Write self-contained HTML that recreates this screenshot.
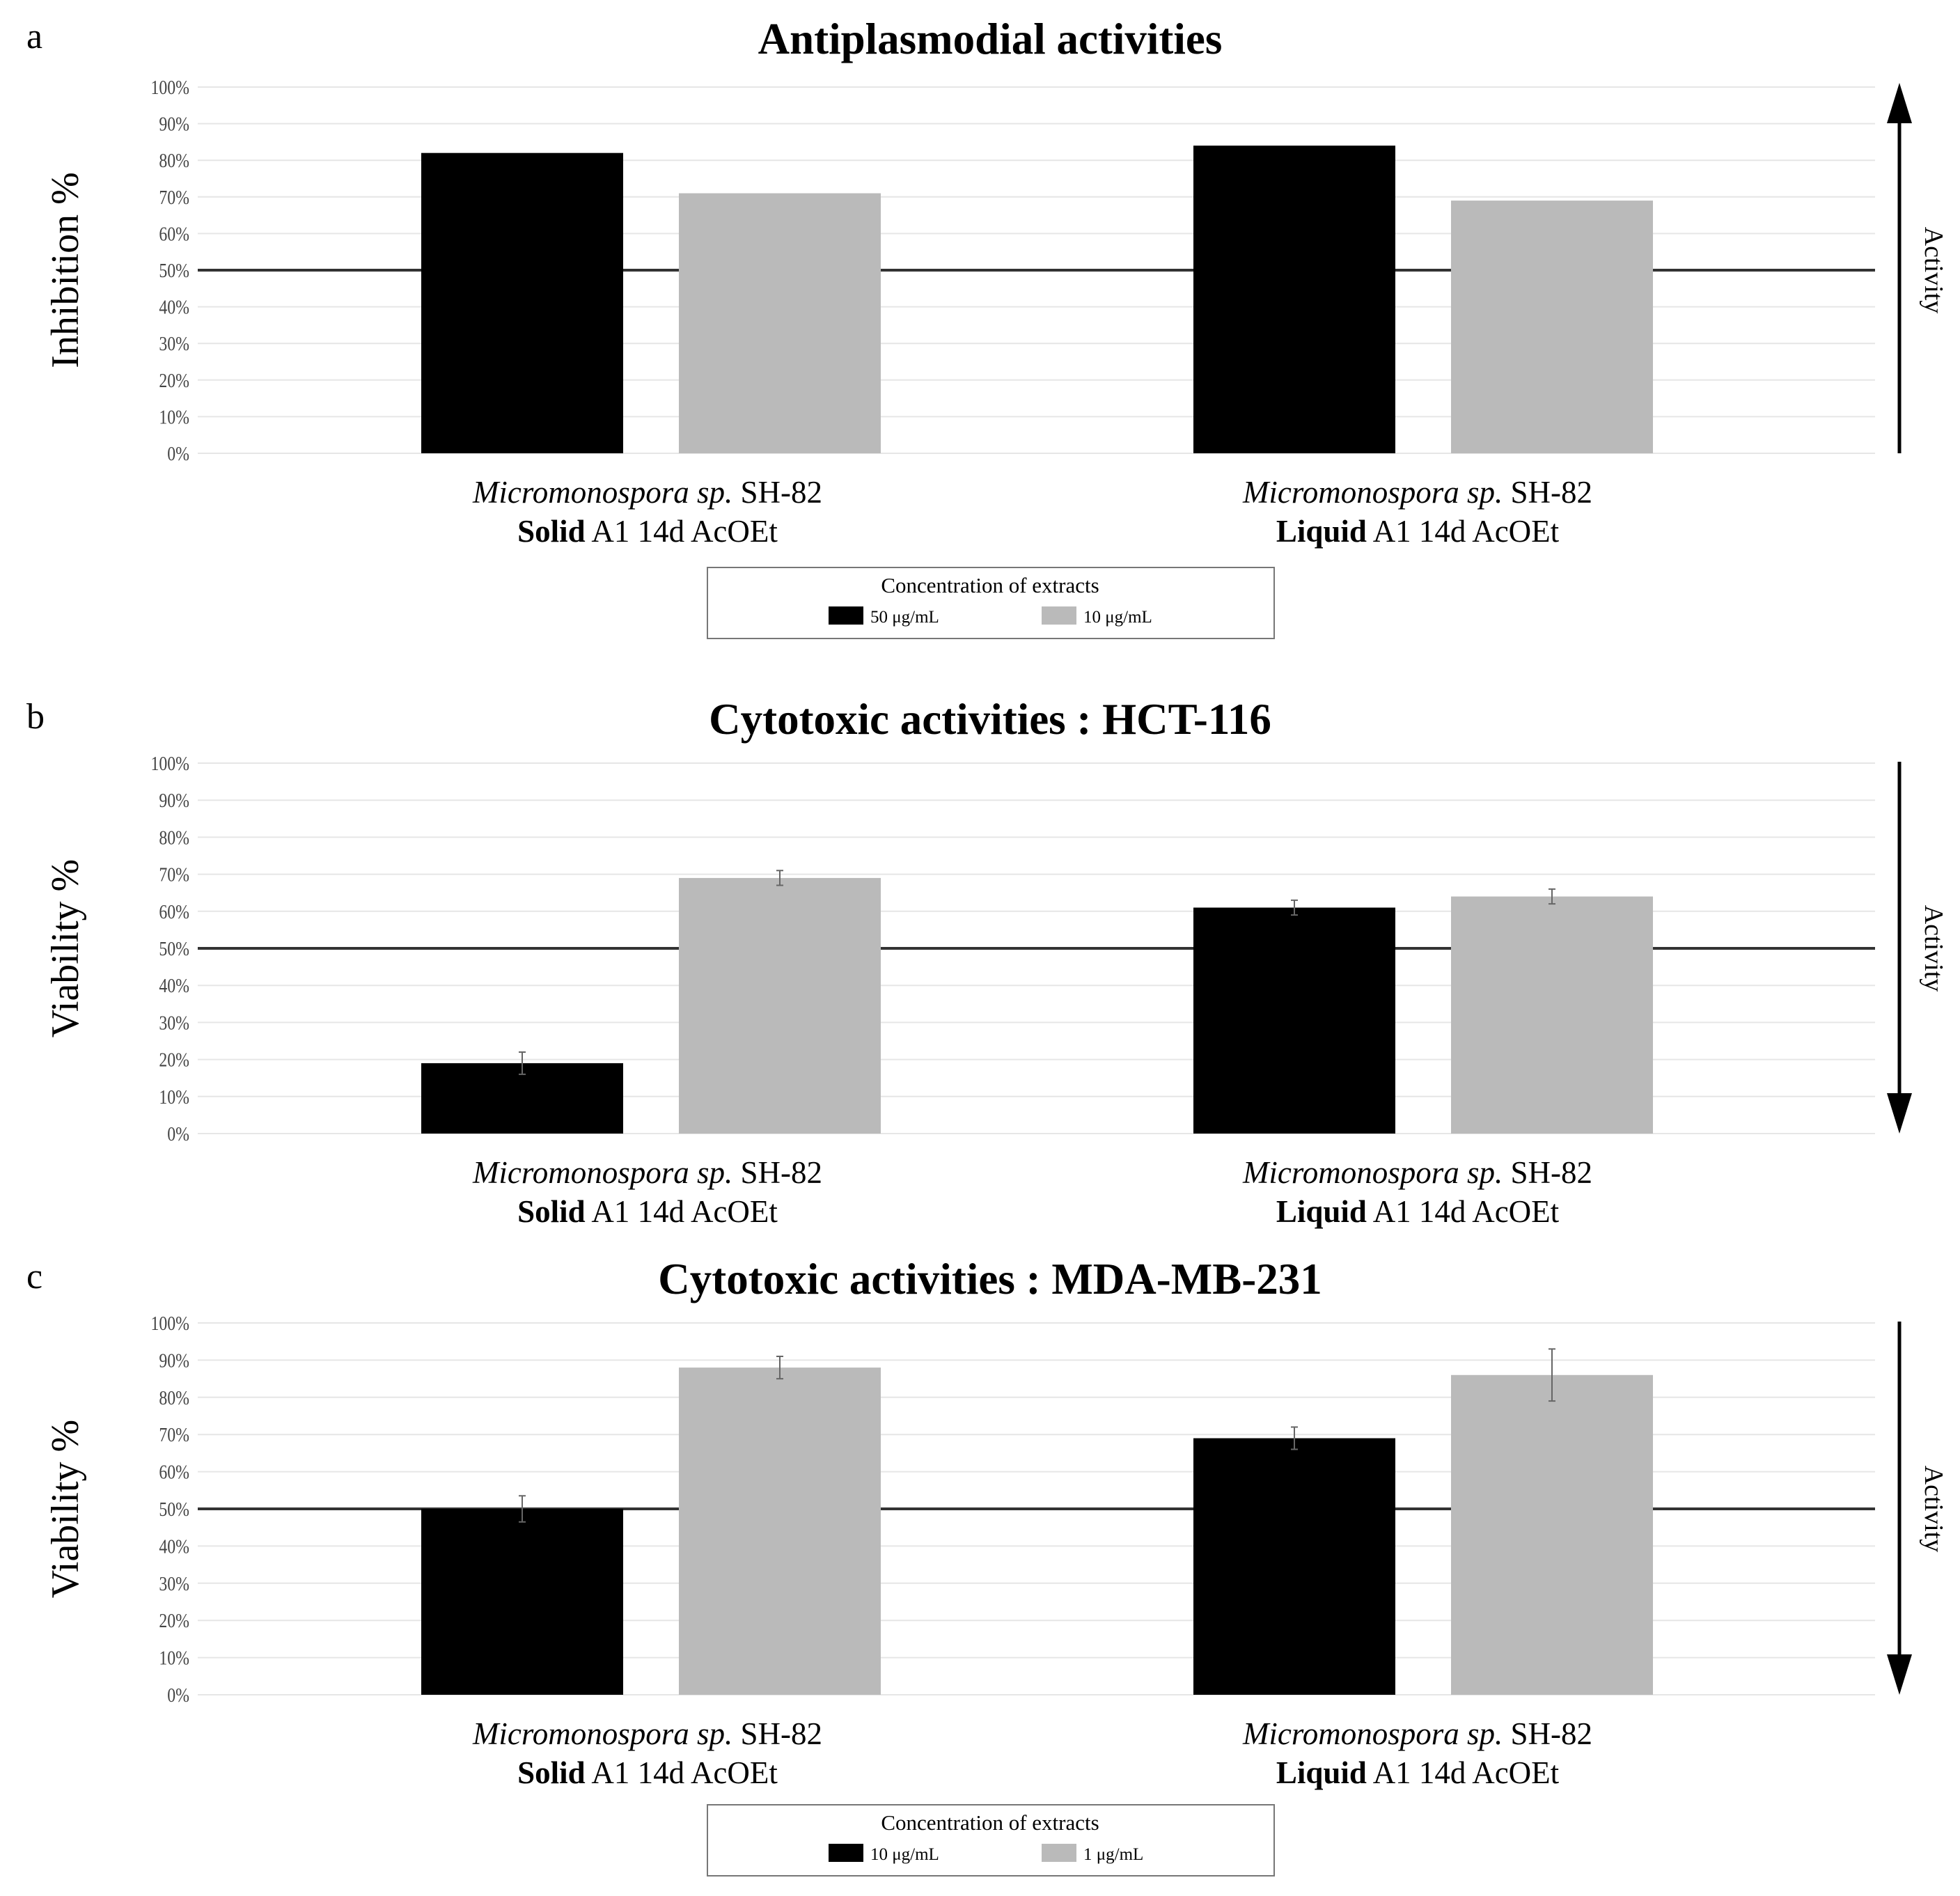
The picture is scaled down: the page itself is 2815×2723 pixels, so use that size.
<!DOCTYPE html>
<html><head><meta charset="utf-8"><style>
html,body{margin:0;padding:0;background:#fff;}
svg{display:block;font-family:"Liberation Serif",serif;}
</style></head><body>
<svg id="fig" width="2815" height="2723" viewBox="0 0 2815 2723" xmlns="http://www.w3.org/2000/svg"></svg>
<script>
const categories = ["Solid", "Liquid"];
const ticks = [0,10,20,30,40,50,60,70,80,90,100];
const aValues1 = [82, 84];
const aValues2 = [71, 69];
const bValues1 = [19, 61];
const bValues2 = [69, 64];
const bErr1 = [3, 2];
const bErr2 = [2, 2];
const cValues1 = [50, 69];
const cValues2 = [88, 86];
const cErr1 = [3.5, 3];
const cErr2 = [3, 7];
const threshold = 50;

const NS = "http://www.w3.org/2000/svg";
const svg = document.getElementById('fig');
function mk(tag, attrs, parent, text){
  const e = document.createElementNS(NS, tag);
  for (const k in attrs) e.setAttribute(k, attrs[k]);
  if (text !== undefined) e.textContent = text;
  (parent || svg).appendChild(e);
  return e;
}
const X0 = 284, X1 = 2693;
const barX = [[605, 975], [1714, 2084]];
const barW = 290;
const catCenters = [930, 2036];

function panel(cfg){
  const g = mk('g', {});
  
  
  const y = v => cfg.y0 - (v/100) * (cfg.y0 - cfg.y100);
  const letter = mk('text', {x:38, y:cfg.titleY+12, 'font-size':52}, g, cfg.letter);
  
  
  const t = mk('text', {x:1422, y:cfg.titleY+20, 'font-size':63, 'font-weight':'bold', 'text-anchor':'middle'}, g, cfg.title);
  
  
  ticks.forEach(v => {
    const gl = mk('line', {x1:X0, x2:X1, y1:y(v), y2:y(v), stroke:'#e6e6e6', 'stroke-width':2}, g);
    
    
    const tl = mk('text', {x:272, y:y(v)+10, 'font-size':28, 'text-anchor':'end', fill:'#444', transform:`translate(${272},0) scale(0.85,1) translate(${-272},0)`}, g, v + '%');
    
    
  });
  const yt = mk('text', {x:0, y:0, 'font-size':56, 'text-anchor':'middle', transform:`translate(112,${(cfg.y0+cfg.y100)/2}) rotate(-90)`}, g, cfg.ylabel);
  
  
  const th = mk('line', {x1:X0, x2:X1, y1:y(threshold), y2:y(threshold), stroke:'#333', 'stroke-width':4}, g);
  
  
  categories.forEach((c, i) => {
    [[cfg.v1, cfg.e1, '#000'], [cfg.v2, cfg.e2, '#bababa']].forEach((s, j) => {
      const v = s[0][i];
      const r = mk('rect', {x:barX[i][j], y:y(v), width:barW, height:y(0)-y(v), fill:s[2]}, g);
      
      
      if (s[1]) {
        const e = s[1][i], cx = barX[i][j] + barW/2;
        const eb = mk('path', {d:`M${cx},${y(v+e)}V${y(v-e)}M${cx-5},${y(v+e)}H${cx+5}M${cx-5},${y(v-e)}H${cx+5}`, stroke:'#666', 'stroke-width':2, fill:'none'}, g);
        
        
      }
    });
    const l1 = mk('text', {x:catCenters[i], y:cfg.y0+71, 'font-size':45, 'text-anchor':'middle'}, g);
    
    
    mk('tspan', {'font-style':'italic'}, l1, 'Micromonospora sp.');
    mk('tspan', {}, l1, ' SH-82');
    const l2 = mk('text', {x:catCenters[i], y:cfg.y0+127, 'font-size':45, 'text-anchor':'middle'}, g);
    
    
    mk('tspan', {'font-weight':'bold'}, l2, c);
    mk('tspan', {}, l2, ' A1 14d AcOEt');
  });
  const ax = 2728;
  const ar = mk('g', {}, g);
  
  
  if (cfg.up) {
    mk('line', {x1:ax, x2:ax, y1:cfg.y0, y2:cfg.y100+10, stroke:'#000', 'stroke-width':5}, ar);
    mk('path', {d:`M${ax-18},${cfg.y100+52}L${ax},${cfg.y100-6}L${ax+18},${cfg.y100+52}Z`, fill:'#000'}, ar);
  } else {
    mk('line', {x1:ax, x2:ax, y1:cfg.y100-2, y2:cfg.y0-10, stroke:'#000', 'stroke-width':5}, ar);
    mk('path', {d:`M${ax-18},${cfg.y0-58}L${ax},${cfg.y0}L${ax+18},${cfg.y0-58}Z`, fill:'#000'}, ar);
  }
  const at = mk('text', {x:0, y:0, 'font-size':38, 'text-anchor':'middle', transform:`translate(2765,${(cfg.y0+cfg.y100)/2}) rotate(90)`}, g, 'Activity');
  
  
  if (cfg.legend) {
    const lg = mk('g', {}, g);
    
    
    const ly = cfg.legendY;
    mk('rect', {x:1016, y:ly, width:814, height:102, fill:'#fff', stroke:'#777', 'stroke-width':2}, lg);
    mk('text', {x:1422, y:ly+36, 'font-size':31, 'text-anchor':'middle'}, lg, 'Concentration of extracts');
    const e1 = mk('rect', {x:1190, y:ly+56, width:50, height:26, fill:'#000'}, lg);
    
    
    mk('text', {x:1250, y:ly+79, 'font-size':25}, lg, cfg.legend[0]);
    const e2 = mk('rect', {x:1496, y:ly+56, width:50, height:26, fill:'#bababa'}, lg);
    
    
    mk('text', {x:1556, y:ly+79, 'font-size':25}, lg, cfg.legend[1]);
  }
}
panel({name:'panel-a-antiplasmodial', letter:'a', title:'Antiplasmodial activities', titleY:57, y0:651, y100:125, ylabel:'Inhibition %', v1:aValues1, v2:aValues2, up:true, legend:['50 μg/mL','10 μg/mL'], legendY:815});
panel({name:'panel-b-hct116', letter:'b', title:'Cytotoxic activities : HCT-116', titleY:1034, y0:1628, y100:1096, ylabel:'Viability %', v1:bValues1, v2:bValues2, e1:bErr1, e2:bErr2, up:false});
panel({name:'panel-c-mdamb231', letter:'c', title:'Cytotoxic activities : MDA-MB-231', titleY:1838, y0:2434, y100:1900, ylabel:'Viability %', v1:cValues1, v2:cValues2, e1:cErr1, e2:cErr2, up:false, legend:['10 μg/mL','1 μg/mL'], legendY:2592});
</script>
</body></html>
